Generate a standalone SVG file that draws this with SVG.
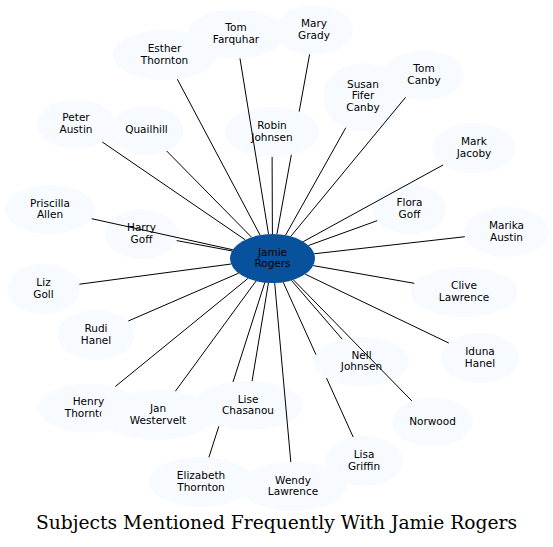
<svg xmlns="http://www.w3.org/2000/svg" width="553" height="547" viewBox="0 0 553 547">
<style>
.n ellipse{fill:#f7fbff;stroke:none}
.c ellipse{fill:#08519c;stroke:none}
text{font-family:"DejaVu Sans",sans-serif;font-size:10.5px;text-anchor:middle;fill:#000}
.e path{fill:none;stroke:#000;stroke-width:1}
.title{font-family:"DejaVu Serif",serif;font-size:19px}
</style>
<rect width="553" height="547" fill="#fff"/>
<g id="nodes">
<g id="tom_farquhar" class="n"><ellipse cx="236" cy="34" rx="49" ry="24.5"/><text x="236" y="31">Tom</text><text x="236" y="42.5">Farquhar</text></g>
<g id="esther_thornton" class="n"><ellipse cx="164.5" cy="55" rx="52" ry="25"/><text x="164.5" y="52">Esther</text><text x="164.5" y="63.5">Thornton</text></g>
<g id="mary_grady" class="n"><ellipse cx="314" cy="30" rx="39" ry="24.5"/><text x="314" y="27">Mary</text><text x="314" y="38.5">Grady</text></g>
<g id="peter_austin" class="n"><ellipse cx="76" cy="124" rx="39" ry="24.5"/><text x="76" y="121">Peter</text><text x="76" y="132.5">Austin</text></g>
<g id="quailhill" class="n"><ellipse cx="146.5" cy="130.5" rx="37" ry="24.5"/><text x="146.5" y="133.3">Quailhill</text></g>
<g id="robin_johnsen" class="n"><ellipse cx="272" cy="132" rx="47" ry="25"/><text x="272" y="129">Robin</text><text x="272" y="140.5">Johnsen</text></g>
<g id="susan_fifer_canby" class="n"><ellipse cx="363" cy="97" rx="40" ry="34"/><text x="363" y="87.7">Susan</text><text x="363" y="99.2">Fifer</text><text x="363" y="110.7">Canby</text></g>
<g id="tom_canby" class="n"><ellipse cx="424" cy="75" rx="40" ry="25"/><text x="424" y="72">Tom</text><text x="424" y="83.5">Canby</text></g>
<g id="mark_jacoby" class="n"><ellipse cx="474" cy="148" rx="42" ry="25"/><text x="474" y="145">Mark</text><text x="474" y="156.5">Jacoby</text></g>
<g id="priscilla_allen" class="n"><ellipse cx="50" cy="209.5" rx="45" ry="24.5"/><text x="50" y="206.5">Priscilla</text><text x="50" y="218">Allen</text></g>
<g id="harry_goff" class="n"><ellipse cx="141.5" cy="234" rx="36.5" ry="25"/><text x="141.5" y="231">Harry</text><text x="141.5" y="242.5">Goff</text></g>
<g id="flora_goff" class="n"><ellipse cx="409.5" cy="209" rx="36.5" ry="25"/><text x="409.5" y="206">Flora</text><text x="409.5" y="217.5">Goff</text></g>
<g id="marika_austin" class="n"><ellipse cx="506.5" cy="232" rx="42.5" ry="25"/><text x="506.5" y="229">Marika</text><text x="506.5" y="240.5">Austin</text></g>
<g id="liz_goll" class="n"><ellipse cx="43.5" cy="289" rx="36.5" ry="25"/><text x="43.5" y="286">Liz</text><text x="43.5" y="297.5">Goll</text></g>
<g id="clive_lawrence" class="n"><ellipse cx="464" cy="292" rx="53" ry="25"/><text x="464" y="289">Clive</text><text x="464" y="300.5">Lawrence</text></g>
<g id="rudi_hanel" class="n"><ellipse cx="96" cy="335" rx="39" ry="25"/><text x="96" y="332">Rudi</text><text x="96" y="343.5">Hanel</text></g>
<g id="iduna_hanel" class="n"><ellipse cx="480" cy="358" rx="39" ry="25"/><text x="480" y="355">Iduna</text><text x="480" y="366.5">Hanel</text></g>
<g id="nell_johnsen" class="n"><ellipse cx="361.5" cy="361.5" rx="47.5" ry="24.5"/><text x="361.5" y="358.5">Nell</text><text x="361.5" y="370">Johnsen</text></g>
<g id="norwood" class="n"><ellipse cx="432.5" cy="422" rx="40.5" ry="24.5"/><text x="432.5" y="424.8">Norwood</text></g>
<g id="henry_thornton" class="n"><ellipse cx="88.5" cy="408" rx="50" ry="24.5"/><text x="88.5" y="405">Henry</text><text x="88.5" y="416.5">Thornton</text></g>
<g id="jan_westervelt" class="n"><ellipse cx="158" cy="415" rx="57" ry="25"/><text x="158" y="412">Jan</text><text x="158" y="423.5">Westervelt</text></g>
<g id="lise_chasanou" class="n"><ellipse cx="248" cy="405.5" rx="55" ry="24.5"/><text x="248" y="402.5">Lise</text><text x="248" y="414">Chasanou</text></g>
<g id="lisa_griffin" class="n"><ellipse cx="364" cy="461" rx="39" ry="25"/><text x="364" y="458">Lisa</text><text x="364" y="469.5">Griffin</text></g>
<g id="elizabeth_thornton" class="n"><ellipse cx="201" cy="482" rx="52" ry="25"/><text x="201" y="479">Elizabeth</text><text x="201" y="490.5">Thornton</text></g>
<g id="wendy_lawrence" class="n"><ellipse cx="293" cy="486.5" rx="53" ry="24.5"/><text x="293" y="483.5">Wendy</text><text x="293" y="495">Lawrence</text></g>
<g id="jamie_rogers" class="c"><ellipse cx="272.5" cy="258.5" rx="42.5" ry="24.5"/><text x="272.5" y="255.5">Jamie</text><text x="272.5" y="267">Rogers</text></g>
</g>
<g id="connectors" class="e">
<path d="M268.53,234.10L239.97,58.42"/>
<path d="M260.07,235.07L177.35,79.22"/>
<path d="M276.93,234.14L291.34,154.79M299.18,111.60L309.58,54.34"/>
<path d="M245.13,239.76L102.37,142.05"/>
<path d="M251.52,237.19L166.71,151.03"/>
<path d="M272.4,234L272.1,157"/>
<path d="M285.57,235.18L345.80,127.70"/>
<path d="M290.77,236.38L405.65,97.22"/>
<path d="M303.29,241.62L443.11,164.94"/>
<path d="M232.80,249.76L91.72,218.69"/>
<path d="M232.08,250.94L176.71,240.59"/>
<path d="M308.52,245.49L377.22,220.66"/>
<path d="M314.20,253.78L464.78,236.72"/>
<path d="M231.09,264.02L79.34,284.23"/>
<path d="M313.17,265.61L414.31,283.31"/>
<path d="M238.53,273.22L128.32,320.99"/>
<path d="M305.17,274.17L448.77,343.03"/>
<path d="M291.45,280.43L342.16,339.12"/>
<path d="M293.38,279.84L411.86,400.91"/>
<path d="M247.90,278.49L115.32,386.53"/>
<path d="M255.99,281.07L175.38,391.24"/>
<path d="M268.44,282.89L252.07,381.07"/>
<path d="M283.21,282.21L315.93,354.61M326.53,378.08L353.15,436.98"/>
<path d="M264.79,282.59L233.01,381.94M218.82,426.28L208.91,457.28"/>
<path d="M274.70,282.97L290.80,462.01"/>
</g>
<text class="title" x="276.5" y="529" textLength="481" lengthAdjust="spacingAndGlyphs">Subjects Mentioned Frequently With Jamie Rogers</text>
</svg>
